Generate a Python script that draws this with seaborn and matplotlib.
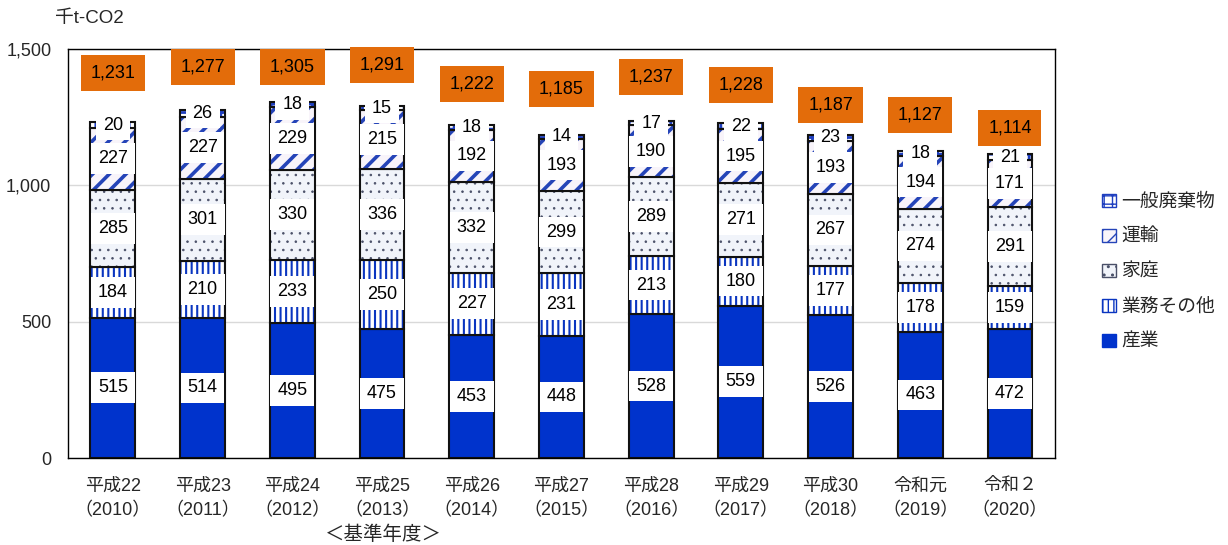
import numpy as np
import pandas as pd
import seaborn as sns
import matplotlib.pyplot as plt
from matplotlib.patches import Patch

# data (千t-CO2)
years = ['平成22\n（2010）', '平成23\n（2011）', '平成24\n（2012）', '平成25\n（2013）',
         '平成26\n（2014）', '平成27\n（2015）', '平成28\n（2016）', '平成29\n（2017）',
         '平成30\n（2018）', '令和元\n（2019）', '令和２\n（2020）']
sangyo = [515, 514, 495, 475, 453, 448, 528, 559, 526, 463, 472]
gyomu = [184, 210, 233, 250, 227, 231, 213, 180, 177, 178, 159]
katei = [285, 301, 330, 336, 332, 299, 289, 271, 267, 274, 291]
unyu = [227, 227, 229, 215, 192, 193, 190, 195, 193, 194, 171]
haikibutsu = [20, 26, 18, 15, 18, 14, 17, 22, 23, 18, 21]
totals = [1231, 1277, 1305, 1291, 1222, 1185, 1237, 1228, 1187, 1127, 1114]
# heights where the orange total boxes sit
total_label_y = [1412, 1434, 1434, 1441, 1371, 1353, 1397, 1368, 1294, 1258, 1210]

sns.set_theme(style='white')
plt.rcParams['font.family'] = ['Liberation Sans', 'Noto Sans CJK JP', 'DejaVu Sans']

fig = plt.figure(figsize=(12.28, 5.45), dpi=100)
ax = fig.add_axes([0.0554, 0.1596, 0.8036, 0.7504])

# (name, values, face, hatch, hatch color, hatch linewidth)
series = [
    ('産業', sangyo, '#0033CC', None, '#0033CC', 1.0),
    ('業務その他', gyomu, 'white', '|||', '#0A35C0', 1.5),
    ('家庭', katei, '#F1F4FA', '..', '#4A5068', 0.6),
    ('運輸', unyu, '#F8F4FA', '//', '#2544B8', 2.6),
    ('一般廃棄物', haikibutsu, 'white', '++', '#1F3FBF', 2.0),
]

bottom = np.zeros(len(years))
handles = []
for name, vals, face, hatch, hcol, hlw in series:
    vals = np.array(vals, dtype=float)
    df = pd.DataFrame({'year': years, 'value': vals})
    plt.rcParams['hatch.linewidth'] = hlw
    n0 = len(ax.patches)
    sns.barplot(data=df, x='year', y='value', color=face, width=0.5, ax=ax,
                bottom=bottom, hatch=hatch, edgecolor=hcol, linewidth=0,
                saturation=1, errorbar=None)
    for p in ax.patches[n0:]:
        if hasattr(p, 'set_hatch_linewidth'):
            p.set_hatch_linewidth(hlw)
    sns.barplot(data=df, x='year', y='value', color='black', width=0.5, ax=ax,
                bottom=bottom, fill=False, edgecolor='#111111', linewidth=1.5,
                errorbar=None)
    for i, v in enumerate(vals):
        ax.text(i, bottom[i] + v / 2, f'{int(v)}', ha='center', va='center', fontsize=13,
                color='black', bbox=dict(facecolor='white', edgecolor='none',
                                         linewidth=0, pad=5), zorder=5)
    handles.append(Patch(facecolor=face, hatch=hatch, edgecolor=hcol, label=name))
    bottom = bottom + vals

for i, (t, yl) in enumerate(zip(totals, total_label_y)):
    ax.text(i, yl, f'{t:,}', ha='center', va='center', fontsize=13, color='black',
            bbox=dict(facecolor='#E36C0A', edgecolor='none', linewidth=0, pad=7),
            zorder=5)

ax.set_xlim(-0.5, len(years) - 0.5)
ax.set_ylim(0, 1500)
ax.set_yticks([0, 500, 1000, 1500])
ax.set_yticklabels(['0', '500', '1,000', '1,500'])
ax.yaxis.grid(True, color='#D9D9D9', linewidth=1)
ax.set_axisbelow(True)
ax.set_xlabel('')
ax.set_ylabel('')
ax.tick_params(axis='y', labelsize=13, length=0, pad=12)
ax.tick_params(axis='x', labelsize=13, length=0, pad=14)
for lab in ax.get_xticklabels():
    lab.set_linespacing(1.55)
for s in ax.spines.values():
    s.set_color('black')
    s.set_linewidth(1)

fig.text(55 / 1228, 1 - 18 / 545, '千t-CO2', fontsize=13.5, ha='left', va='center')
fig.text(383 / 1228, 1 - 535 / 545, '＜基準年度＞', fontsize=14, ha='center', va='center')

plt.rcParams['hatch.linewidth'] = 1.0
fig.legend(handles=handles[::-1], loc='center left', bbox_to_anchor=(0.884, 0.50),
           frameon=False, fontsize=13.5, handlelength=0.7, handleheight=0.7,
           handletextpad=0.3, labelspacing=0.95)

fig.savefig('out.png', dpi=100)
